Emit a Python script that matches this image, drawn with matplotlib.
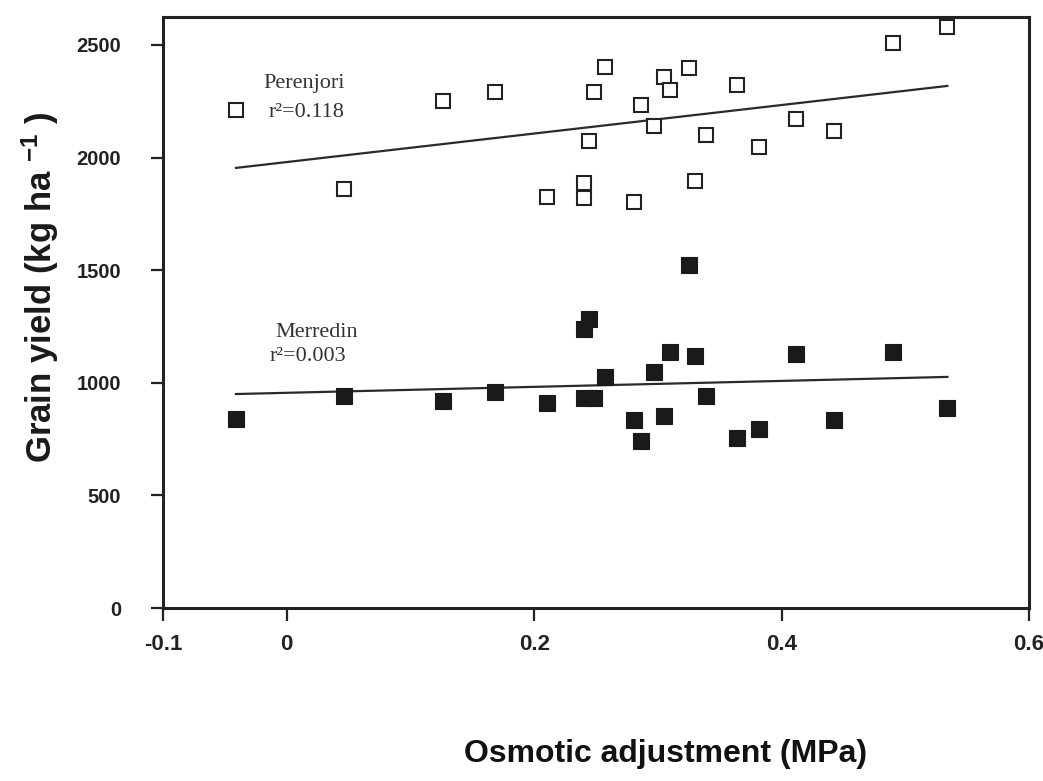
import matplotlib
matplotlib.use("Agg")
import matplotlib.pyplot as plt

# osmotic adjustment (MPa), same lines measured at both sites
osmotic = [-0.041, 0.046, 0.126, 0.168, 0.210, 0.240, 0.244, 0.240, 0.248, 0.257,
           0.281, 0.286, 0.297, 0.305, 0.310, 0.325, 0.330, 0.339, 0.364, 0.382,
           0.412, 0.442, 0.490, 0.534]

# grain yield (kg/ha)
perenjori = [2211, 1861, 2251, 2291, 1825, 1887, 2074, 1821, 2291, 2402,
             1803, 2234, 2140, 2358, 2300, 2398, 1896, 2100, 2322, 2047,
             2171, 2118, 2509, 2580]
merredin = [839, 941, 919, 959, 910, 1239, 1283, 933, 933, 1026,
            835, 742, 1048, 853, 1137, 1523, 1119, 941, 755, 795,
            1128, 835, 1137, 888]

# regression lines, end points
fit_x = [-0.041, 0.534]
perenjori_fit = [1954, 2318]
merredin_fit = [950, 1026]

xticks = [-0.1, 0, 0.2, 0.4, 0.6]
xticklabels = ['-0.1', '0', '0.2', '0.4', '0.6']
yticks = [0, 500, 1000, 1500, 2000, 2500]

plt.rcParams['mathtext.fontset'] = 'custom'
plt.rcParams['mathtext.rm'] = 'Liberation Sans:bold'
plt.rcParams['mathtext.bf'] = 'Liberation Sans:bold'
plt.rcParams['mathtext.sf'] = 'Liberation Sans:bold'
plt.rcParams['mathtext.default'] = 'regular'

fig = plt.figure(figsize=(10.43, 7.81), dpi=100)
ax = fig.add_axes([163/1043, 1-608/781, 866/1043, 591/781])

ax.plot(fit_x, perenjori_fit, color='#2a2a2a', lw=1.6)
ax.plot(fit_x, merredin_fit, color='#2a2a2a', lw=1.6)
ax.plot(osmotic, perenjori, 's', ms=10.5, mfc='white', mec='#222222', mew=1.5)
ax.plot(osmotic, merredin, 's', ms=11.5, mfc='#1a1a1a', mec='#1a1a1a', mew=0.8)

ax.set_xlim(-0.1, 0.6)
ax.set_ylim(0, 2624)
ax.set_xticks(xticks)
ax.set_xticklabels(xticklabels)
ax.set_yticks(yticks)

for s in ax.spines.values():
    s.set_linewidth(2.2)
    s.set_color('#222222')

ax.tick_params(axis='both', direction='out', length=9, width=1.6, color='#222222')
ax.tick_params(axis='y', pad=21)
ax.tick_params(axis='x', pad=10)
for lab in ax.get_yticklabels():
    lab.set_fontfamily('Liberation Sans')
    lab.set_fontweight('bold')
    lab.set_fontsize(14.5)
    lab.set_color('#222222')
for lab in ax.get_xticklabels():
    lab.set_fontfamily('Liberation Sans')
    lab.set_fontweight('bold')
    lab.set_fontsize(16)
    lab.set_color('#222222')

# site labels in the plot
serif = dict(family='Liberation Serif', fontsize=16, color='#333333', va='baseline')
ax.text(-0.019, 2309, 'Perenjori', **serif)
ax.text(-0.015, 2180, 'r\u00b2=0.118', **serif)
ax.text(-0.0095, 1203, 'Merredin', **serif)
ax.text(-0.0135, 1097, 'r\u00b2=0.003', **serif)

fig.text(40/1043, 1-287/781, 'Grain yield (kg ha $^{\\mathsf{-1}}$ )', rotation=90,
         ha='center', va='center', fontsize=25, fontweight='bold',
         family='Liberation Sans', color='#1a1a1a')
fig.text(666/1043, 1-762/781, 'Osmotic adjustment (MPa)', ha='center', va='baseline',
         fontsize=23, fontweight='bold', family='Liberation Sans', color='#111111')

fig.savefig('out.png', dpi=100)
